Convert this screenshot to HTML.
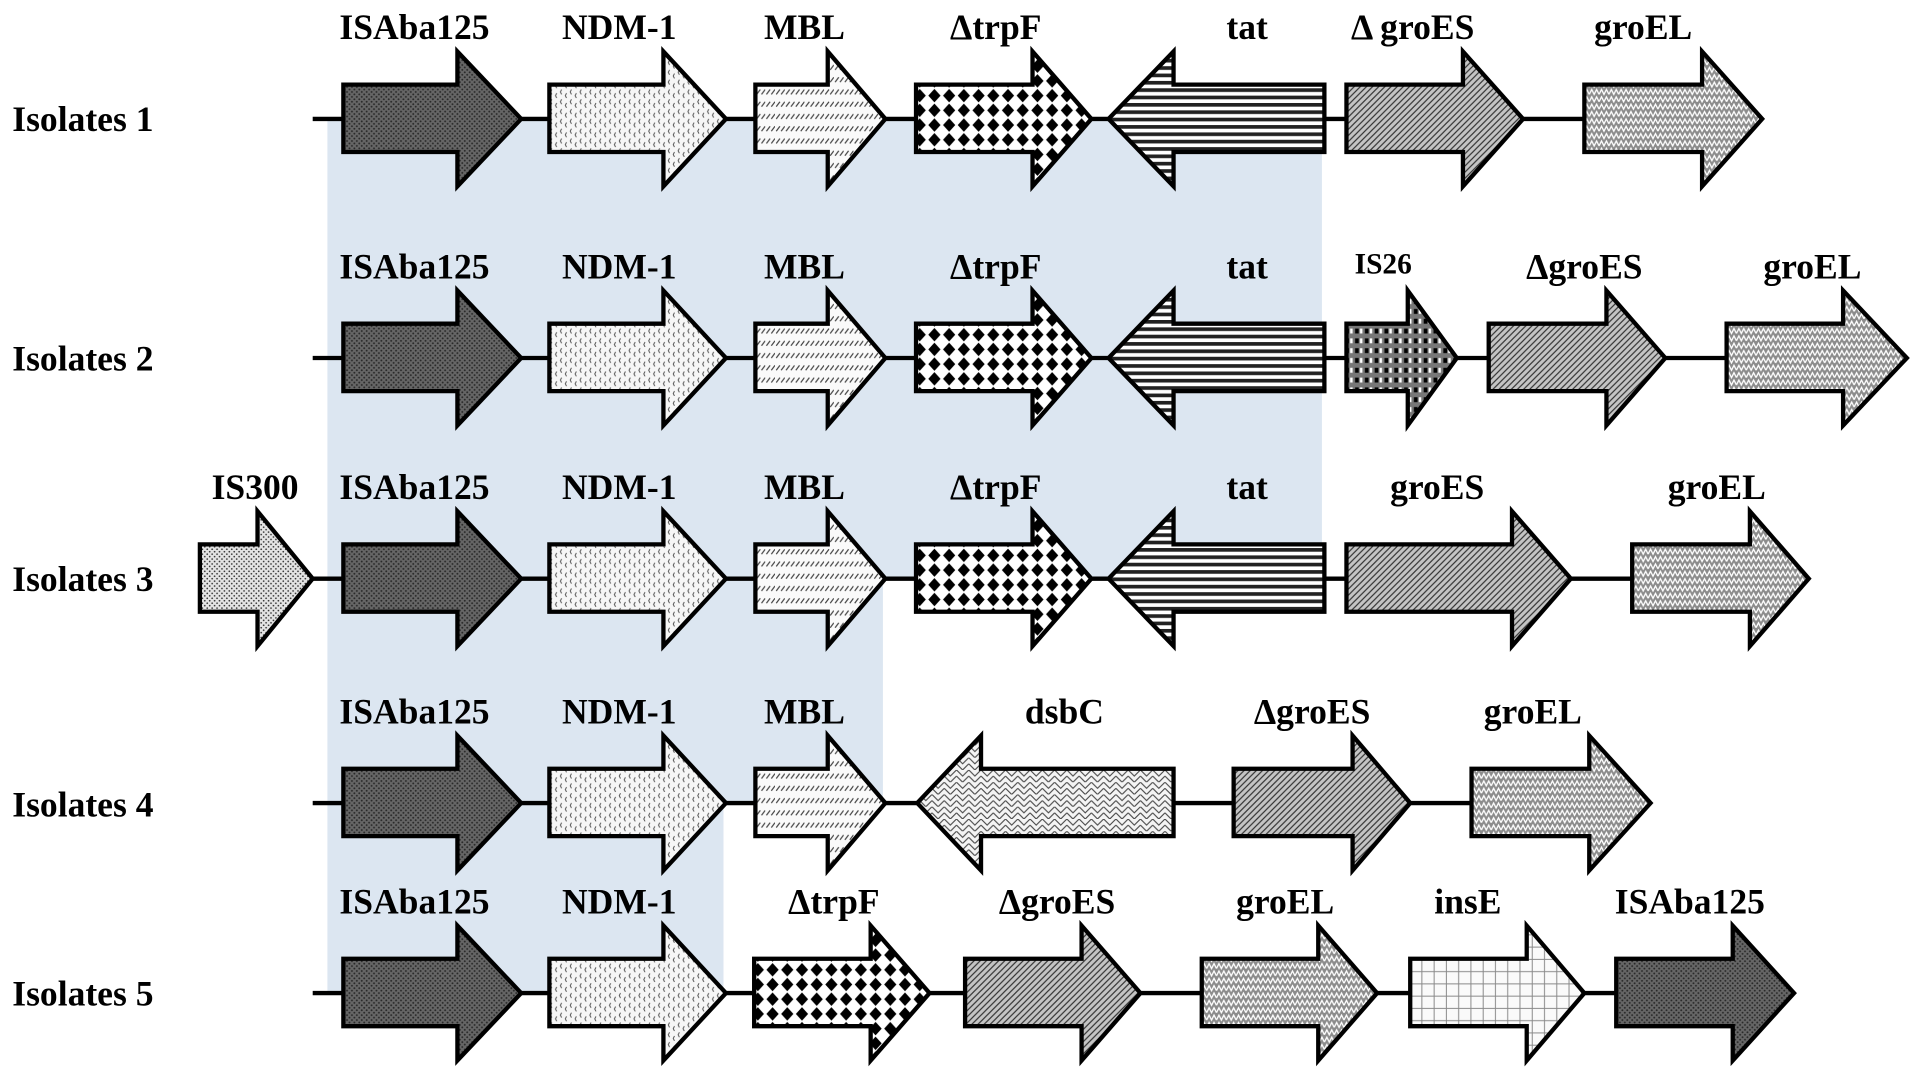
<!DOCTYPE html>
<html><head><meta charset="utf-8"><style>html,body{margin:0;padding:0;background:#fff;}svg{display:block}</style></head>
<body>
<svg width="1913" height="1074" viewBox="0 0 1560 876" preserveAspectRatio="none" xmlns="http://www.w3.org/2000/svg">
<defs>
<pattern id="pIS" width="4" height="4" patternUnits="userSpaceOnUse"><rect width="4" height="4" fill="#666"/><circle cx="1" cy="1" r="0.8" fill="#2a2a2a"/><circle cx="3" cy="3" r="0.8" fill="#2a2a2a"/></pattern>
<pattern id="pNDM" width="8" height="8" patternUnits="userSpaceOnUse"><rect width="8" height="8" fill="#f6f6f6"/><path d="M2 1l-1 2 1 2M6 4l-1 2 1 2" stroke="#555" stroke-width="0.8" fill="none"/></pattern>
<pattern id="pMBL" width="8" height="10" patternUnits="userSpaceOnUse"><rect width="8" height="10" fill="#fafafa"/><path d="M1 7l3-4M5 7l3-4" stroke="#444" stroke-width="1"/></pattern>
<pattern id="pTRP" width="12" height="12" patternUnits="userSpaceOnUse"><rect width="12" height="12" fill="#fff"/><path d="M6 0.5l5 5.5-5 5.5-5-5.5z" fill="#000"/></pattern>
<pattern id="pTAT" width="6" height="6" patternUnits="userSpaceOnUse"><rect width="6" height="6" fill="#fff"/><rect y="0" width="6" height="3" fill="#222"/></pattern>
<pattern id="pGES" width="5" height="5" patternUnits="userSpaceOnUse"><rect width="5" height="5" fill="#c4c4c4"/><path d="M-1 6L6 -1M-1 1L1 -1M4 6L6 4" stroke="#333" stroke-width="1"/></pattern>
<pattern id="pGEL" width="8" height="6" patternUnits="userSpaceOnUse"><rect width="8" height="6" fill="#8c8c8c"/><path d="M0 5l2-4 2 4 2-4 2 4" stroke="#fff" stroke-width="1.1" fill="none"/></pattern>
<pattern id="pIS26" width="8" height="8" patternUnits="userSpaceOnUse"><rect width="8" height="8" fill="#777"/><rect x="1" y="1" width="3" height="4" fill="#000"/><rect x="5" y="1" width="2" height="4" fill="#fff"/></pattern>
<pattern id="pINS" width="10" height="10" patternUnits="userSpaceOnUse"><rect width="10" height="10" fill="#fafafa"/><path d="M0 9.5H10M9.5 0V10" stroke="#888" stroke-width="0.8"/></pattern>
<pattern id="pIS3" width="4" height="4" patternUnits="userSpaceOnUse"><rect width="4" height="4" fill="#e4e4e4"/><circle cx="1" cy="1" r="0.7" fill="#333"/><circle cx="3" cy="3" r="0.7" fill="#333"/></pattern>
<pattern id="pDSB" width="10" height="10" patternUnits="userSpaceOnUse"><rect width="10" height="10" fill="#f4f4f4"/><path d="M0 0l5 5 5-5M0 5l5 5 5-5" stroke="#444" stroke-width="0.9" fill="none"/></pattern>
</defs>

<path d="M267 97H1078V472H720V655H590V810H267Z" fill="#dce6f1"/>

<g font-family="Liberation Serif, serif" font-weight="bold" font-size="29" fill="#000">
<text x="10" y="107">Isolates 1</text>
<text x="10" y="302">Isolates 2</text>
<text x="10" y="482">Isolates 3</text>
<text x="10" y="666">Isolates 4</text>
<text x="10" y="820">Isolates 5</text>
</g>

<g stroke="#000" stroke-width="3.5" stroke-linejoin="miter">
<g>
<line x1="255" y1="97" x2="1292" y2="97"/>
<polygon fill="url(#pIS)" points="280,69 373,69 373,42 425,97 373,152 373,124 280,124"/>
<polygon fill="url(#pNDM)" points="448,69 541,69 541,42 592,97 541,152 541,124 448,124"/>
<polygon fill="url(#pMBL)" points="616,69 675,69 675,42 722,97 675,152 675,124 616,124"/>
<polygon fill="url(#pTRP)" points="747,69 842,69 842,42 890,97 842,152 842,124 747,124"/>
<polygon fill="url(#pTAT)" points="1080,69 957,69 957,42 904,97 957,152 957,124 1080,124"/>
<polygon fill="url(#pGES)" points="1098,69 1193,69 1193,42 1242,97 1193,152 1193,124 1098,124"/>
<polygon fill="url(#pGEL)" points="1292,69 1388,69 1388,42 1437,97 1388,152 1388,124 1292,124"/>
</g>
<g transform="translate(0,195)">
<line x1="255" y1="97" x2="1408" y2="97"/>
<polygon fill="url(#pIS)" points="280,69 373,69 373,42 425,97 373,152 373,124 280,124"/>
<polygon fill="url(#pNDM)" points="448,69 541,69 541,42 592,97 541,152 541,124 448,124"/>
<polygon fill="url(#pMBL)" points="616,69 675,69 675,42 722,97 675,152 675,124 616,124"/>
<polygon fill="url(#pTRP)" points="747,69 842,69 842,42 890,97 842,152 842,124 747,124"/>
<polygon fill="url(#pTAT)" points="1080,69 957,69 957,42 904,97 957,152 957,124 1080,124"/>
<polygon fill="url(#pIS26)" points="1098,69 1148,69 1148,42 1188,97 1148,152 1148,124 1098,124"/>
<polygon fill="url(#pGES)" points="1214,69 1310,69 1310,42 1358,97 1310,152 1310,124 1214,124"/>
<polygon fill="url(#pGEL)" points="1408,69 1503,69 1503,42 1555,97 1503,152 1503,124 1408,124"/>
</g>
<g transform="translate(0,375)">
<line x1="255" y1="97" x2="1331" y2="97"/>
<polygon fill="url(#pIS3)" points="163,69 210,69 210,42 255,97 210,152 210,124 163,124"/>
<polygon fill="url(#pIS)" points="280,69 373,69 373,42 425,97 373,152 373,124 280,124"/>
<polygon fill="url(#pNDM)" points="448,69 541,69 541,42 592,97 541,152 541,124 448,124"/>
<polygon fill="url(#pMBL)" points="616,69 675,69 675,42 722,97 675,152 675,124 616,124"/>
<polygon fill="url(#pTRP)" points="747,69 842,69 842,42 890,97 842,152 842,124 747,124"/>
<polygon fill="url(#pTAT)" points="1080,69 957,69 957,42 904,97 957,152 957,124 1080,124"/>
<polygon fill="url(#pGES)" points="1098,69 1233,69 1233,42 1281,97 1233,152 1233,124 1098,124"/>
<polygon fill="url(#pGEL)" points="1331,69 1427,69 1427,42 1475,97 1427,152 1427,124 1331,124"/>
</g>
<g transform="translate(0,558)">
<line x1="255" y1="97" x2="1200" y2="97"/>
<polygon fill="url(#pIS)" points="280,69 373,69 373,42 425,97 373,152 373,124 280,124"/>
<polygon fill="url(#pNDM)" points="448,69 541,69 541,42 592,97 541,152 541,124 448,124"/>
<polygon fill="url(#pMBL)" points="616,69 675,69 675,42 722,97 675,152 675,124 616,124"/>
<polygon fill="url(#pDSB)" points="957,69 800,69 800,42 748,97 800,152 800,124 957,124"/>
<polygon fill="url(#pGES)" points="1006,69 1103,69 1103,42 1150,97 1103,152 1103,124 1006,124"/>
<polygon fill="url(#pGEL)" points="1200,69 1296,69 1296,42 1346,97 1296,152 1296,124 1200,124"/>
</g>
<g transform="translate(0,713)">
<line x1="255" y1="97" x2="1318" y2="97"/>
<polygon fill="url(#pIS)" points="280,69 373,69 373,42 425,97 373,152 373,124 280,124"/>
<polygon fill="url(#pNDM)" points="448,69 541,69 541,42 592,97 541,152 541,124 448,124"/>
<polygon fill="url(#pTRP)" points="615,69 710,69 710,42 758,97 710,152 710,124 615,124"/>
<polygon fill="url(#pGES)" points="787,69 882,69 882,42 930,97 882,152 882,124 787,124"/>
<polygon fill="url(#pGEL)" points="980,69 1075,69 1075,42 1123,97 1075,152 1075,124 980,124"/>
<polygon fill="url(#pINS)" points="1150,69 1245,69 1245,42 1292,97 1245,152 1245,124 1150,124"/>
<polygon fill="url(#pIS)" points="1318,69 1413,69 1413,42 1463,97 1413,152 1413,124 1318,124"/>
</g>
</g>

<g font-family="Liberation Serif, serif" font-weight="bold" font-size="29" fill="#000" text-anchor="middle">
<g>
<text x="338" y="32">ISAba125</text><text x="505" y="32">NDM-1</text><text x="656" y="32">MBL</text>
<text x="812" y="32">ΔtrpF</text><text x="1017" y="32">tat</text><text x="1152" y="32">Δ groES</text><text x="1340" y="32">groEL</text>
</g>
<g transform="translate(0,195)">
<text x="338" y="32">ISAba125</text><text x="505" y="32">NDM-1</text><text x="656" y="32">MBL</text>
<text x="812" y="32">ΔtrpF</text><text x="1017" y="32">tat</text><text x="1128" y="28" font-size="24">IS26</text><text x="1292" y="32">ΔgroES</text><text x="1478" y="32">groEL</text>
</g>
<g transform="translate(0,375)">
<text x="208" y="32">IS300</text><text x="338" y="32">ISAba125</text><text x="505" y="32">NDM-1</text><text x="656" y="32">MBL</text>
<text x="812" y="32">ΔtrpF</text><text x="1017" y="32">tat</text><text x="1172" y="32">groES</text><text x="1400" y="32">groEL</text>
</g>
<g transform="translate(0,558)">
<text x="338" y="32">ISAba125</text><text x="505" y="32">NDM-1</text><text x="656" y="32">MBL</text>
<text x="868" y="32">dsbC</text><text x="1070" y="32">ΔgroES</text><text x="1250" y="32">groEL</text>
</g>
<g transform="translate(0,713)">
<text x="338" y="32">ISAba125</text><text x="505" y="32">NDM-1</text><text x="680" y="32">ΔtrpF</text>
<text x="862" y="32">ΔgroES</text><text x="1048" y="32">groEL</text><text x="1197" y="32">insE</text><text x="1378" y="32">ISAba125</text>
</g>
</g>
</svg>
</body></html>
